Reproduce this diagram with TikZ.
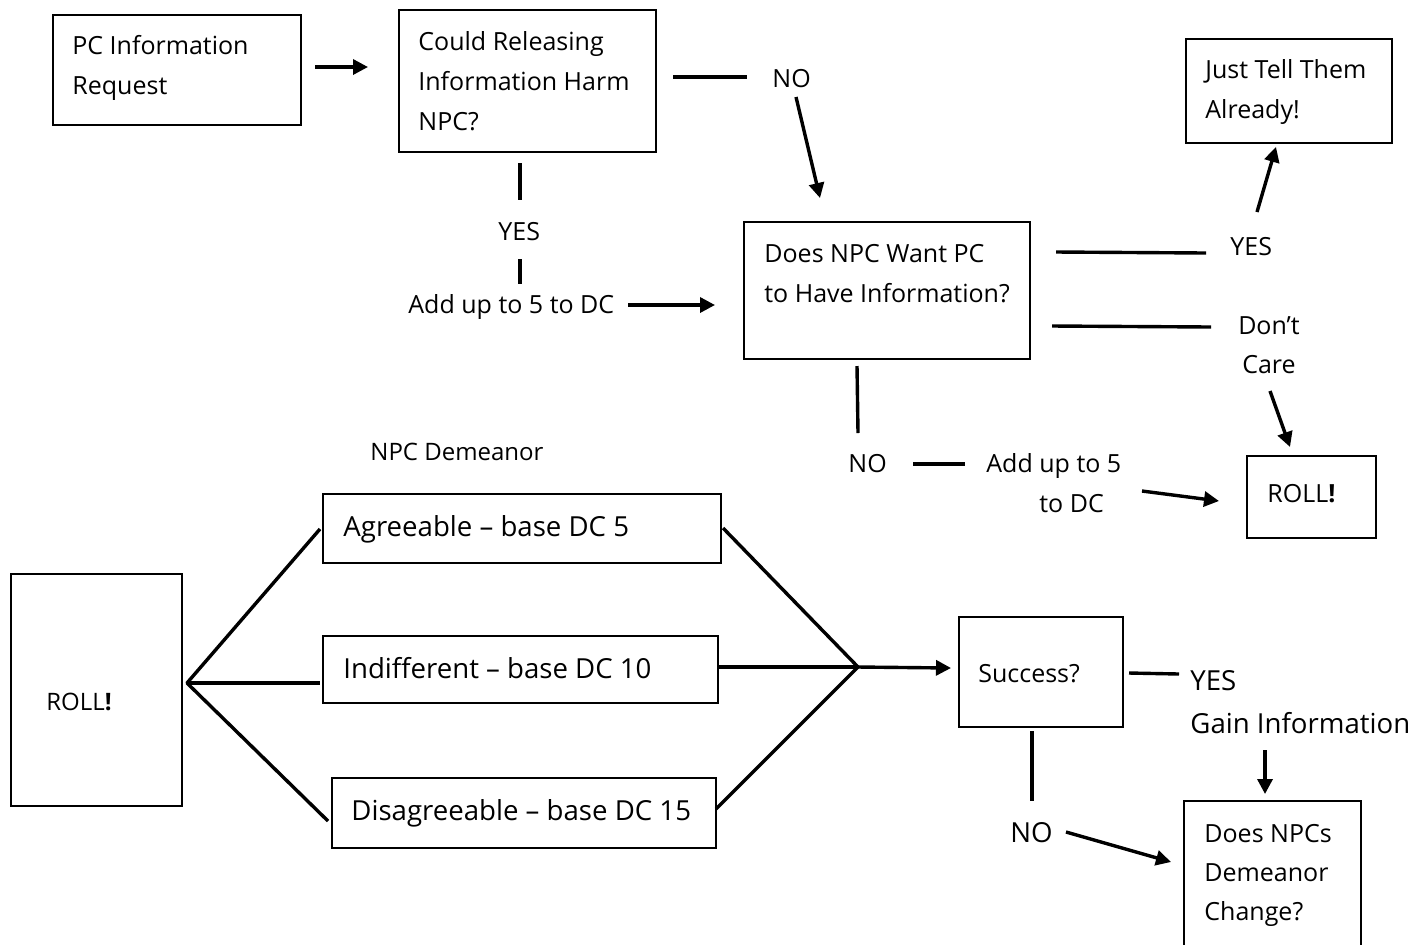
\documentclass[tikz,border=0pt]{standalone}
\usepackage{fontspec}
\setmainfont{Open Sans}
\usetikzlibrary{arrows.meta}
\newcommand{\fl}{\rule{0pt}{11pt}}
\begin{document}
\begin{tikzpicture}[x=0.5pt,y=-0.5pt,
  box/.style={draw, line width=0.9pt, inner sep=0pt, anchor=north west},
  txt/.style={inner sep=0pt, anchor=north west, align=left, font=\fontsize{12.5}{20}\selectfont},
  big/.style={font=\fontsize{13.8}{22}\selectfont},
  con/.style={line width=1.7pt},
  arr/.style={line width=1.7pt, -{Triangle[length=7.5pt,width=7.5pt]}},
]
\useasboundingbox (0,0) rectangle (1422,944);

% boxes
\node[box, minimum width=124pt,   minimum height=55pt]   (b1)  at (52,14) {};
\node[box, minimum width=128.5pt, minimum height=71pt]   (b2)  at (398,9) {};
\node[box, minimum width=103pt,   minimum height=52pt]   (b3)  at (1185,38) {};
\node[box, minimum width=143pt,   minimum height=68.5pt] (b4)  at (743,221) {};
\node[box, minimum width=64.5pt,  minimum height=41pt]   (b5)  at (1246,455) {};
\node[box, minimum width=85.5pt,  minimum height=116pt]  (b6)  at (10,573) {};
\node[box, minimum width=199pt,   minimum height=34.5pt] (b7)  at (322,493) {};
\node[box, minimum width=197.5pt, minimum height=33.5pt] (b8)  at (322,635) {};
\node[box, minimum width=192pt,   minimum height=35pt]   (b9)  at (331,777) {};
\node[box, minimum width=82pt,    minimum height=55pt]   (b10) at (958,616) {};
\node[box, minimum width=88.5pt,  minimum height=74pt]   (b11) at (1183,800) {};

% box texts
\node[txt] (t1)  at (72,32)   {\fl PC Information\\Request};
\node[txt] (t2)  at (418,28)  {\fl Could Releasing\\Information Harm\\NPC?};
\node[txt] (t3)  at (1205,56) {\fl Just Tell Them\\Already!};
\node[txt] (t4)  at (764,240) {\fl Does NPC Want PC\\to Have Information?};
\node[txt] (t5)  at (1267,480) {\fl ROLL{\bfseries !}};
\node[txt, font=\fontsize{12}{20}\selectfont] (t6) at (46,688) {\fl ROLL{\bfseries !}};
\node[txt, big] (t7) at (343,514) {\fl Agreeable – base DC 5};
\node[txt, big] (t8) at (343,656) {\fl Indifferent – base DC 10};
\node[txt, big] (t9) at (351,798) {\fl Disagreeable – base DC 15};
\node[txt] (t10) at (978,660) {\fl Success?};
\node[txt, font=\fontsize{12.5}{19.5}\selectfont] (t11) at (1204,820) {\fl Does NPCs\\Demeanor\\Change?};

% labels
\node[txt] (l1) at (772,65)   {\fl NO};
\node[txt] (l2) at (498,218)  {\fl YES};
\node[txt] (l3) at (408,291)  {\fl Add up to 5 to DC};
\node[txt] (l4) at (1230,233) {\fl YES};
\node[txt, align=center, anchor=north, font=\fontsize{12.5}{19.5}\selectfont] (l5) at (1269,312) {\fl Don’t\\Care};
\node[txt, font=\fontsize{12}{20}\selectfont] (l6) at (370,438) {\fl NPC Demeanor};
\node[txt] (l7) at (848,450)  {\fl NO};
\node[txt] (l8) at (986,450)  {\fl Add up to 5\\\hspace*{26.5pt}to DC};
\node[txt, big] (l9)  at (1190,668) {\fl YES};
\node[txt, big] (l10) at (1190,711) {\fl Gain Information};
\node[txt, big] (l11) at (1010,820) {\fl NO};

% connector end points
\coordinate (p1a) at (315,67);   \coordinate (p1b) at (368,67);
\coordinate (p2a) at (673,77);   \coordinate (p2b) at (747,77);
\coordinate (p3a) at (796,97);   \coordinate (p3b) at (820,198);
\coordinate (p4a) at (520,163);  \coordinate (p4b) at (520,200);
\coordinate (p5a) at (520,259);  \coordinate (p5b) at (520,284);
\coordinate (p6a) at (628,305);  \coordinate (p6b) at (715,305);
\coordinate (p7a) at (1056,252); \coordinate (p7b) at (1206,253);
\coordinate (p8a) at (1257,212); \coordinate (p8b) at (1276,147);
\coordinate (p9a) at (1052,326); \coordinate (p9b) at (1211,327);
\coordinate (p10a) at (1270,391); \coordinate (p10b) at (1290,447);
\coordinate (p11a) at (857,366); \coordinate (p11b) at (858,433);
\coordinate (p12a) at (913,464); \coordinate (p12b) at (965,464);
\coordinate (p13a) at (1142,491); \coordinate (p13b) at (1219,501);
\coordinate (J) at (187,683);
\coordinate (ja) at (320,529); \coordinate (jb) at (320,683); \coordinate (jc) at (328,821);
\coordinate (K) at (858,667);
\coordinate (ka) at (723,528); \coordinate (kb) at (719,667); \coordinate (kc) at (716,809);
\coordinate (kd) at (951,668);
\coordinate (p16a) at (1129,673); \coordinate (p16b) at (1179,674);
\coordinate (p17a) at (1265,750); \coordinate (p17b) at (1265,794);
\coordinate (p18a) at (1032,731); \coordinate (p18b) at (1032,801);
\coordinate (p19a) at (1066,832); \coordinate (p19b) at (1171,862);

% connectors
\draw[arr] (p1a) -- (p1b);
\draw[con] (p2a) -- (p2b);
\draw[arr] (p3a) -- (p3b);
\draw[con] (p4a) -- (p4b);
\draw[con] (p5a) -- (p5b);
\draw[arr] (p6a) -- (p6b);
\draw[con] (p7a) -- (p7b);
\draw[arr] (p8a) -- (p8b);
\draw[con] (p9a) -- (p9b);
\draw[arr] (p10a) -- (p10b);
\draw[con] (p11a) -- (p11b);
\draw[con] (p12a) -- (p12b);
\draw[arr] (p13a) -- (p13b);
\draw[con, line join=round] (ja) -- (J) -- (jc);
\draw[con] (J) -- (jb);
\draw[con, line join=round] (ka) -- (K) -- (kc);
\draw[con] (kb) -- (K);
\draw[arr] (K) -- (kd);
\draw[con] (p16a) -- (p16b);
\draw[arr] (p17a) -- (p17b);
\draw[con] (p18a) -- (p18b);
\draw[arr] (p19a) -- (p19b);
\end{tikzpicture}
\end{document}
